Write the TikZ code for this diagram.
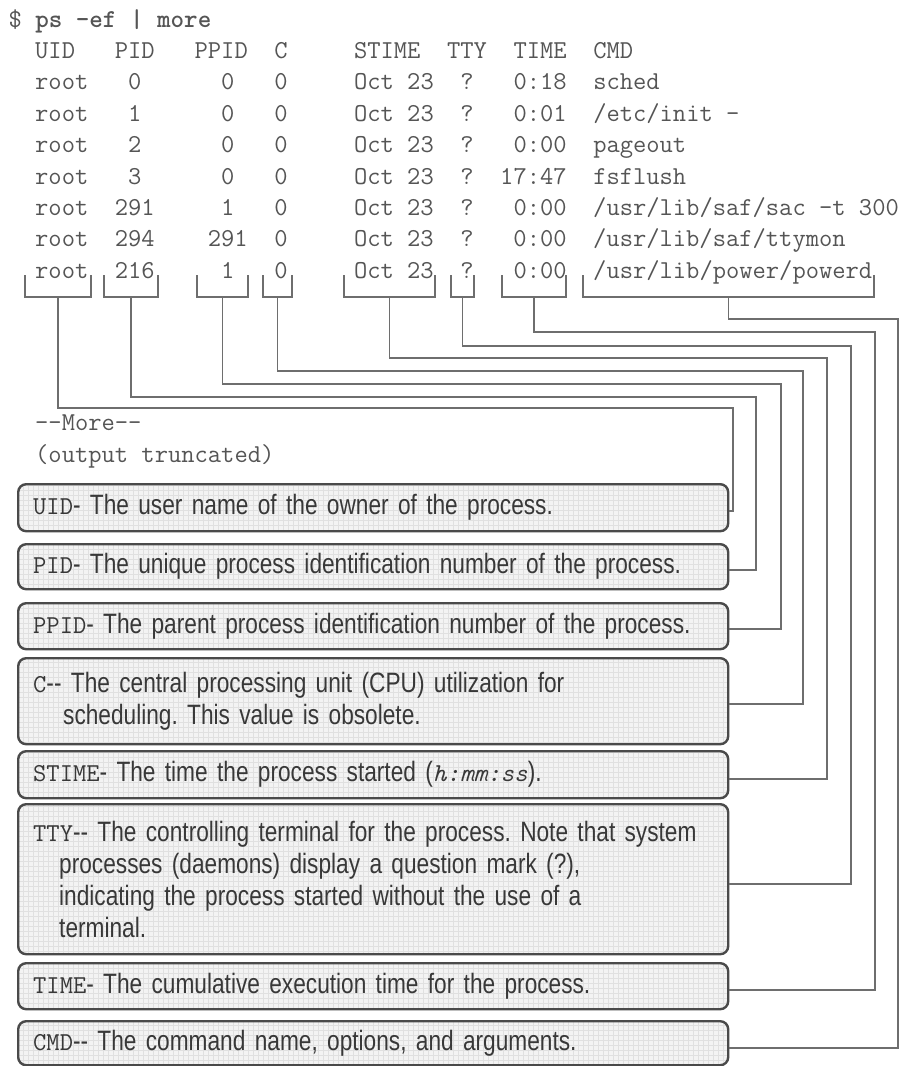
\documentclass[tikz,border=0pt]{standalone}
\usepackage{fontspec}
\usepackage{xcolor}
\usetikzlibrary{calc, positioning}
\newfontfamily\descfont[FakeStretch=0.81]{Liberation Sans}
\definecolor{termink}{HTML}{555555}
\definecolor{descink}{HTML}{383838}
\definecolor{wiregray}{HTML}{6E6E6E}
\definecolor{boxgray}{HTML}{4A4A4A}
\definecolor{boxfill}{HTML}{F3F3F3}
\definecolor{gridgray}{HTML}{E0E0E0}
\newcommand{\fieldname}[1]{{\ttfamily\fontsize{25.8}{32}\selectfont #1}}
\tikzset{
  %terminal line style
  termline/.style={
    anchor=base west
    , inner sep=0pt
    , text=termink
    , font=\ttfamily\fontsize{25.8}{31}\selectfont
  },
  %description box style
  descbox/.style={
    draw=boxgray
    , fill=boxfill
    , line width=2.4pt
    , rounded corners=8pt
    , anchor=north west
    , text width=680pt
    , inner xsep=15pt
    , inner ysep=0pt
    , align=left
    , text=descink
    , font=\descfont\fontsize{28}{32}\selectfont
    , execute at begin node=\frenchspacing
    , path picture={
        \draw[gridgray, line width=0.4pt]
          (path picture bounding box.south west) grid[step=5pt]
          (path picture bounding box.north east);
      }
    %, minimum width=710pt
  },
  %connector style
  wire/.style={
    draw=wiregray
    , line width=1.6pt
  },
}

\begin{document}
\begin{tikzpicture}[x=1pt, y=-1pt]
  \useasboundingbox (0,0) rectangle (901,1066);

  % ps listing
  \node[termline] (cmdline) at (8.5,27) {\$ \textbf{ps -ef | more}};
  \node[termline] (head) at (35,58.4) {UID~~~PID~~~PPID~~C~~~~~STIME~~TTY~~TIME~~CMD};
  \node[termline] (row0) at (35,89.8) {root~~~0~~~~~~0~~~0~~~~~Oct~23~~?~~~0:18~~sched};
  \node[termline] (row1) at (35,121.2) {root~~~1~~~~~~0~~~0~~~~~Oct~23~~?~~~0:01~~/etc/init~-};
  \node[termline] (row2) at (35,152.6) {root~~~2~~~~~~0~~~0~~~~~Oct~23~~?~~~0:00~~pageout};
  \node[termline] (row3) at (35,184) {root~~~3~~~~~~0~~~0~~~~~Oct~23~~?~~17:47~~fsflush};
  \node[termline] (row4) at (35,215.4) {root~~291~~~~~1~~~0~~~~~Oct~23~~?~~~0:00~~/usr/lib/saf/sac~-t~300};
  \node[termline] (row5) at (35,246.8) {root~~294~~~~291~~0~~~~~Oct~23~~?~~~0:00~~/usr/lib/saf/ttymon};
  \node[termline] (row6) at (35,278.2) {root~~216~~~~~1~~~0~~~~~Oct~23~~?~~~0:00~~/usr/lib/power/powerd};
  \node[termline] (more) at (35,430) {-{}-More-{}-};
  \node[termline] (trunc) at (35,462) {(output truncated)};

  % brackets under the columns
  \draw[wire] (25,275) |- (91,297) -- (91,275);   \coordinate (bUID) at (58,297);
  \draw[wire] (104,275) |- (158,297) -- (158,275); \coordinate (bPID) at (131,297);
  \draw[wire] (197,275) |- (248,297) -- (248,275); \coordinate (bPPID) at (222.5,297);
  \draw[wire] (263,275) |- (292,297) -- (292,275); \coordinate (bC) at (277.5,297);
  \draw[wire] (344,275) |- (435,297) -- (435,275); \coordinate (bSTIME) at (389.5,297);
  \draw[wire] (451,275) |- (474,297) -- (474,275); \coordinate (bTTY) at (462.5,297);
  \draw[wire] (502,275) |- (566,297) -- (566,275); \coordinate (bTIME) at (534,297);
  \draw[wire] (583,275) |- (874,297) -- (874,275); \coordinate (bCMD) at (728.5,297);

  % description boxes
  \node[descbox, minimum height=47pt] (dUID) at (17,483)
    {\fieldname{UID}- The user name of the owner of the process.};
  \node[descbox, minimum height=45pt] (dPID) at (17,543)
    {\fieldname{PID}- The unique process identification number of the process.};
  \node[descbox, minimum height=46pt] (dPPID) at (17,602)
    {\fieldname{PPID}- The parent process identification number of the process.};
  \node[descbox, minimum height=86pt] (dC) at (17,657)
    {\fieldname{C}-{}- The central processing unit (CPU) utilization for\\
     \hspace*{30pt}scheduling. This value is obsolete.};
  \node[descbox, minimum height=47pt] (dSTIME) at (17,750)
    {\fieldname{STIME}- The time the process started ({\ttfamily\itshape\fontsize{25.8}{32}\selectfont h:mm:ss}).};
  \node[descbox, minimum height=150pt] (dTTY) at (17,803)
    {\fieldname{TTY}-{}- The controlling terminal for the process. Note that system\\
     \hspace*{26pt}processes (daemons) display a question mark (?),\\
     \hspace*{26pt}indicating the process started without the use of a\\
     \hspace*{26pt}terminal.};
  \node[descbox, minimum height=46pt] (dTIME) at (17,962)
    {\fieldname{TIME}- The cumulative execution time for the process.};
  \node[descbox, minimum height=44pt] (dCMD) at (17,1020)
    {\fieldname{CMD}-{}- The command name, options, and arguments.};

  % connectors: bracket -> corner -> box
  \coordinate (kUID) at (733,408);
  \coordinate (kPID) at (756,397);
  \coordinate (kPPID) at (781,384);
  \coordinate (kC) at (803,371);
  \coordinate (kSTIME) at (827,358);
  \coordinate (kTTY) at (851,346);
  \coordinate (kTIME) at (875,332);
  \coordinate (kCMD) at (898,319);
  \draw[wire] (bUID) |- (kUID) |- ([yshift=-3pt]dUID.east);
  \draw[wire] (bPID) |- (kPID) |- ([yshift=-3pt]dPID.east);
  \draw[wire] (bPPID) |- (kPPID) |- ([yshift=-3pt]dPPID.east);
  \draw[wire] (bC) |- (kC) |- ([yshift=-3pt]dC.east);
  \draw[wire] (bSTIME) |- (kSTIME) |- ([yshift=-4pt]dSTIME.east);
  \draw[wire] (bTTY) |- (kTTY) |- ([yshift=-5pt]dTTY.east);
  \draw[wire] (bTIME) |- (kTIME) |- ([yshift=-4pt]dTIME.east);
  \draw[wire] (bCMD) |- (kCMD) |- ([yshift=-5pt]dCMD.east);
\end{tikzpicture}
\end{document}
